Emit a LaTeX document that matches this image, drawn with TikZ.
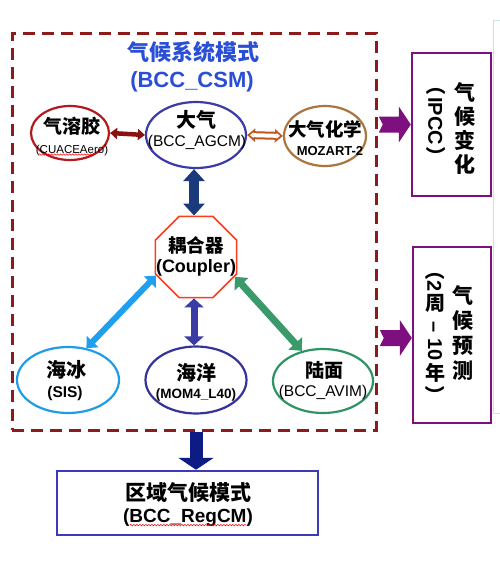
\documentclass[tikz,border=0pt]{standalone}
\usepackage{fontspec}
\setmainfont{Liberation Sans}
\newfontfamily\zh{Noto Sans CJK SC}
\usetikzlibrary{shapes.geometric,arrows.meta,calc,decorations.pathmorphing}
\definecolor{dashred}{HTML}{8E1B1B}
\definecolor{titleblue}{HTML}{2A4FD6}
\definecolor{aerored}{HTML}{B3191E}
\definecolor{aeroarrow}{HTML}{8B1010}
\definecolor{atmblue}{HTML}{3A3AA8}
\definecolor{chembrown}{HTML}{A8763E}
\definecolor{chemarrow}{HTML}{C0561A}
\definecolor{coupred}{HTML}{FF3B1A}
\definecolor{iceblue}{HTML}{1E9CE6}
\definecolor{icearrow}{HTML}{1F9FEF}
\definecolor{oceanblue}{HTML}{33339A}
\definecolor{oceanarrow}{HTML}{3B3BA5}
\definecolor{landgreen}{HTML}{2F9463}
\definecolor{landarrow}{HTML}{3A9A6A}
\definecolor{navyarrow}{HTML}{1B3A7C}
\definecolor{darknavy}{HTML}{0D1B85}
\definecolor{regblue}{HTML}{3B3BB5}
\definecolor{purp}{HTML}{7E0F7E}
\definecolor{edgecyan}{HTML}{C8E4E8}
\newcommand\fsz[1]{\fontsize{#1}{#1}\selectfont}
\newcommand\rotm[1]{\rotatebox{-90}{#1}}
\tikzset{
  lbl/.style={inner sep=0pt, text=black},
  ell/.style={draw=#1, ellipse, line width=2.2pt, inner sep=0pt},
  dbl/.style n args={3}{line width=#1,{Triangle[length=#2,width=#3]}-{Triangle[length=#2,width=#3]}},
  sidebox/.style={draw=purp, line width=2.5pt, inner sep=0pt},
  squiggle/.style={draw=red, line width=0.5pt, decorate, decoration={snake, amplitude=0.8pt, segment length=3pt}}
}
\begin{document}
\begin{tikzpicture}[x=1pt,y=-1pt]
\useasboundingbox (0,0) rectangle (500,570);
\fill[white] (0,0) rectangle (500,570);

% faint slide edge on the right
\draw[edgecyan, line width=1pt] (501,20) -- (493,20) -- (493,413) -- (501,413);

% system (dashed) box
\node[draw=dashred, line width=3pt, dash pattern=on 12pt off 7pt, minimum width=364pt, minimum height=397pt, inner sep=0pt] (sys) at (194,231.5) {};

% title
\node[lbl, text=titleblue, font={\zh\bfseries\fsz{22}}] (t1) at (193,52) {气候系统模式};
\node[lbl, text=titleblue, font={\bfseries\fsz{22}}] (t2) at (192,82) {(BCC\_CSM)};

% component shapes
\node[ell=aerored, minimum width=78pt, minimum height=54pt] (aer) at (70,133) {};
\node[ell=atmblue, minimum width=100pt, minimum height=66pt] (atm) at (196,135) {};
\node[ell=chembrown, minimum width=82pt, minimum height=60pt] (chem) at (325,136) {};
\node[ell=iceblue, minimum width=102pt, minimum height=66pt] (ice) at (68,380) {};
\node[ell=oceanblue, minimum width=101pt, minimum height=67pt] (ocn) at (196,380) {};
\node[ell=landgreen, minimum width=100pt, minimum height=64pt] (land) at (323,381) {};
\node[draw=coupred, line width=1.6pt, regular polygon, regular polygon sides=8, minimum size=88pt, inner sep=0pt] (coup) at (196,257) {};

% component texts
\node[lbl, font={\zh\bfseries\fsz{19}}] (aerA) at (72,126) {气溶胶};
\node[lbl, font={\fsz{11.5}}] (aerB) at (72,151) {(CUACEAero)};
\node[lbl, font={\zh\bfseries\fsz{20}}] (atmA) at (196,120) {大气};
\node[lbl, font={\fsz{15.5}}] (atmB) at (197,142) {(BCC\_AGCM)};
\node[lbl, font={\zh\bfseries\fsz{18.5}}] (chemA) at (325,129) {大气化学};
\node[lbl, font={\bfseries\fsz{13}}] (chemB) at (330,151) {MOZART-2};
\node[lbl, font={\zh\bfseries\fsz{18.5}}] (coupA) at (196,245) {耦合器};
\node[lbl, font={\bfseries\fsz{18}}] (coupB) at (196,268) {(Coupler)};
\node[lbl, font={\zh\bfseries\fsz{20}}] (iceA) at (66,370) {海冰};
\node[lbl, font={\bfseries\fsz{15.5}}] (iceB) at (65,393) {(SIS)};
\node[lbl, font={\zh\bfseries\fsz{20}}] (ocnA) at (196,373) {海洋};
\node[lbl, font={\bfseries\fsz{13.5}}] (ocnB) at (196,395) {(MOM4\_L40)};
\node[lbl, font={\zh\bfseries\fsz{19}}] (landA) at (324,370) {陆面};
\node[lbl, font={\fsz{15.5}}] (landB) at (323,392) {(BCC\_AVIM)};

% connectors
\draw[aeroarrow, dbl={4.5pt}{7pt}{11pt}] (aer.east) -- (atm.west);
\draw[chemarrow, dbl={8pt}{8pt}{13pt}] (atm.east) -- (chem.west);
\draw[white, dbl={4pt}{3.5pt}{5.5pt}, shorten <=2.9pt, shorten >=2.9pt] (atm.east) -- (chem.west);
\draw[navyarrow, dbl={10pt}{12pt}{21pt}] ([xshift=-2pt]atm.south) -- ([xshift=-2pt]coup.north);
\draw[oceanarrow, dbl={7pt}{9pt}{19pt}] ([xshift=-2pt]coup.south) -- ([xshift=-2pt]ocn.north);
\draw[icearrow, dbl={6pt}{9pt}{16pt}] (ice.60) -- (coup.205);
\draw[landarrow, dbl={7pt}{10pt}{18pt}] (coup.-27) -- (land.125);

% regional model box
\node[draw=regblue, line width=2.5pt, minimum width=261pt, minimum height=64pt, inner sep=0pt] (reg) at (187.5,503) {};
\node[lbl, font={\zh\bfseries\fsz{21}}] (regA) at (188,492) {区域气候模式};
\node[lbl, font={\bfseries\fsz{19}}] (regB) at (188,518) {(BCC\_RegCM)};
\draw[darknavy, line width=13pt, -{Triangle[length=12pt,width=35pt]}] ([xshift=2pt]sys.south) -- ([xshift=2pt]sys.south |- reg.north);

% spell-check squiggles
\draw[squiggle] ([xshift=3pt,yshift=2pt]aerB.south west) -- ([xshift=-14pt,yshift=2pt]aerB.south east);
\draw[squiggle] ([xshift=7pt,yshift=2pt]regB.south west) -- ([xshift=-7pt,yshift=2pt]regB.south east);

% right-hand boxes
\node[sidebox, minimum width=79pt, minimum height=143pt] (ipcc) at (451.5,124.5) {};
\node[sidebox, minimum width=78pt, minimum height=176pt] (pred) at (452,335) {};
\node[lbl, align=center, font={\zh\bfseries\fontsize{21}{24}\selectfont}] (ipccA) at (465,129) {气\\候\\变\\化};
\node[lbl, rotate=-90, font={\bfseries\fsz{20}}] (ipccB) at (436,121) {{\zh （}\kern2pt IPCC\kern2pt{\zh ）}};
\node[lbl, align=center, font={\zh\bfseries\fontsize{21}{25}\selectfont}] (predA) at (463,333) {气\\候\\预\\测};
\node[lbl, font={\bfseries\fsz{20}}] (predB) at (435,333) {\shortstack{\rotm{{\zh （}2}\\{\zh 周}\\\rotm{\ – 10}\\{\zh 年}\\\rotm{\zh ）}}};

% purple block arrows
\fill[purp, shift={(ipcc.west)}] (-32,-8) -- (-12,-8) -- (-12,-18) -- (0,0) -- (-12,18) -- (-12,8) -- (-32,8) -- (-28,0) -- cycle;
\fill[purp, shift={($(pred.west)+(0,3)$)}] (-32,-8) -- (-12,-8) -- (-12,-18) -- (0,0) -- (-12,18) -- (-12,8) -- (-32,8) -- (-28,0) -- cycle;
\end{tikzpicture}
\end{document}
